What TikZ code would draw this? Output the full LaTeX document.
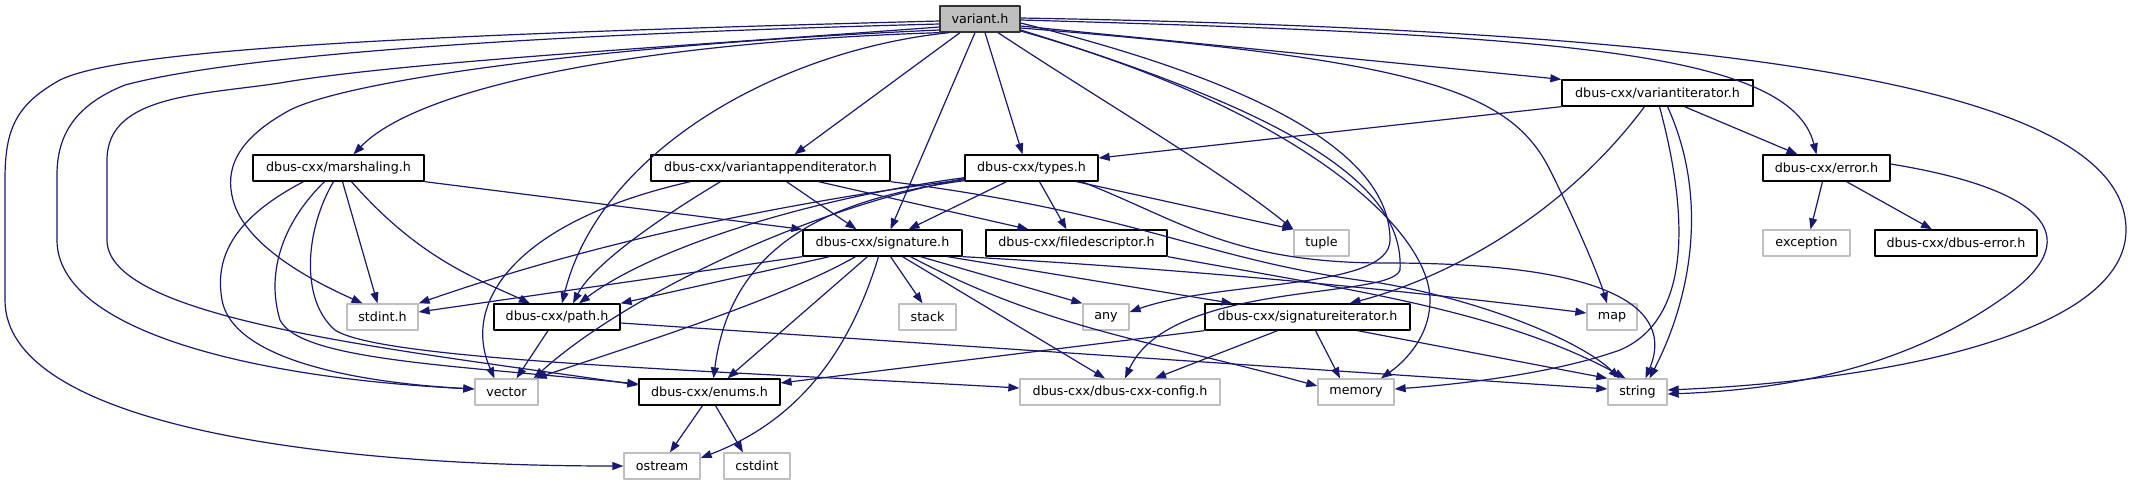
\documentclass[tikz,border=0pt]{standalone}
\usepackage{fontspec}
\setmainfont{DejaVu Sans}
\usetikzlibrary{arrows.meta}
\definecolor{edgeblue}{RGB}{25,25,112}
\definecolor{extgrey}{RGB}{191,191,191}
\begin{document}
\begin{tikzpicture}[x=1pt,y=-1pt,line join=round,
	edge/.style={edgeblue,line width=1.2pt,-{Triangle[length=11pt,width=8pt]}},
	box/.style={rectangle,minimum height=26pt,inner sep=0pt,line width=1.3pt,font=\fontsize{12.7}{15}\selectfont},
	doc/.style={box,draw=black,fill=white},
	ext/.style={box,draw=extgrey,fill=white},
	root/.style={box,draw=black!80,fill=extgrey}]
	\useasboundingbox (0,0) rectangle (2131,485);
	\node[root,minimum width=80pt] (v) at (980,19) {variant.h};
	\node[doc,minimum width=191pt] (vi) at (1657.5,93) {dbus-cxx/variantiterator.h};
	\node[doc,minimum width=171pt] (ma) at (338.5,168) {dbus-cxx/marshaling.h};
	\node[doc,minimum width=239pt] (va) at (770.5,168) {dbus-cxx/variantappenditerator.h};
	\node[doc,minimum width=133pt] (ty) at (1031.5,168) {dbus-cxx/types.h};
	\node[doc,minimum width=127pt] (er) at (1826.5,168) {dbus-cxx/error.h};
	\node[doc,minimum width=159pt] (sg) at (882.5,243) {dbus-cxx/signature.h};
	\node[doc,minimum width=181pt] (fd) at (1076.5,243) {dbus-cxx/filedescriptor.h};
	\node[ext,minimum width=55pt] (tu) at (1321.5,243) {tuple};
	\node[ext,minimum width=87pt] (ex) at (1806.5,243) {exception};
	\node[doc,minimum width=162pt] (de) at (1956,243) {dbus-cxx/dbus-error.h};
	\node[ext,minimum width=71pt] (st) at (382.5,317) {stdint.h};
	\node[doc,minimum width=126pt] (pa) at (557,317) {dbus-cxx/path.h};
	\node[ext,minimum width=57pt] (sk) at (927.5,317) {stack};
	\node[ext,minimum width=46pt] (an) at (1106,317) {any};
	\node[doc,minimum width=205pt] (si) at (1307.5,317) {dbus-cxx/signatureiterator.h};
	\node[ext,minimum width=50pt] (mp) at (1612,317) {map};
	\node[ext,minimum width=63pt] (ve) at (506.5,392) {vector};
	\node[doc,minimum width=141pt] (en) at (709.5,392) {dbus-cxx/enums.h};
	\node[ext,minimum width=200pt] (cf) at (1120,392) {dbus-cxx/dbus-cxx-config.h};
	\node[ext,minimum width=76pt] (me) at (1356,392) {memory};
	\node[ext,minimum width=59pt] (sr) at (1637.5,392) {string};
	\node[ext,minimum width=76pt] (os) at (662,466) {ostream};
	\node[ext,minimum width=66pt] (cs) at (757,466) {cstdint};

	\draw[edge] ([yshift=-2pt]v.west) .. controls (400,35) and (120,50) .. (60,80) .. controls (15,105) and (5,130) .. (5,180) -- (5,300) .. controls (5,420) and (300,466) .. (os.west);
	\draw[edge] ([yshift=-5pt]v.west) .. controls (400,38) and (200,65) .. (125,85) .. controls (75,105) and (57,135) .. (57,175) -- (57,240) .. controls (57,330) and (250,378) .. ([yshift=3pt]ve.west);
	\draw[edge] ([yshift=-8pt]v.west) .. controls (700,45) and (400,62) .. (280,83) .. controls (200,95) and (107,95) .. (107,160) -- (107,240) .. controls (107,320) and (400,350) .. ([yshift=7pt]en.west);
	\draw[edge] ([yshift=-11pt]v.west) .. controls (600,45) and (350,80) .. (290,110) .. controls (235,140) and (225,170) .. (233,200) .. controls (245,245) and (310,280) .. ([xshift=-20pt]st.north);
	\draw[edge] (v.south west) .. controls (650,42) and (420,85) .. ([xshift=15pt]ma.north);
	\draw[edge] ([xshift=10pt]v.south west) .. controls (780,50) and (600,150) .. ([xshift=5pt]pa.north);
	\draw[edge] ([xshift=-20pt]v.south) -- ([xshift=24pt]va.north);
	\draw[edge] ([xshift=-5pt]v.south) -- ([xshift=8pt]sg.north);
	\draw[edge] ([xshift=5pt]v.south) -- ([xshift=-9pt]ty.north);
	\draw[edge] ([xshift=18pt]v.south) .. controls (1100,100) and (1220,170) .. (tu.north west);
	\draw[edge] ([yshift=-7pt]v.east) -- (vi.north west);
	\draw[edge] ([yshift=-1pt]v.east) .. controls (1550,35) and (1790,50) .. ([xshift=-10pt]er.north);
	\draw[edge] ([yshift=1pt]v.east) .. controls (1700,30) and (2126,80) .. (2126,230) .. controls (2126,330) and (1900,380) .. ([yshift=2pt]sr.east);
	\draw[edge] ([yshift=-9pt]v.east) .. controls (1420,60) and (1510,90) .. (1550,170) .. controls (1580,230) and (1600,280) .. ([xshift=-5pt]mp.north);
	\draw[edge] ([yshift=-4pt]v.east) .. controls (1250,80) and (1390,150) .. (1390,240) .. controls (1390,290) and (1220,280) .. ([yshift=5pt]an.east);
	\draw[edge] ([yshift=-11pt]v.east) .. controls (1280,110) and (1405,180) .. (1400,270) .. controls (1390,300) and (1170,280) .. ([xshift=5pt]cf.north);
	\draw[edge] ([yshift=-12pt]v.east) .. controls (1300,110) and (1430,230) .. (1430,300) .. controls (1430,340) and (1400,365) .. ([xshift=25pt]me.north);

	\draw[edge] ([xshift=-35pt]ma.south) .. controls (230,220) and (215,260) .. (222,300) .. controls (235,370) and (400,385) .. ([yshift=3pt]ve.west);
	\draw[edge] ([xshift=-14pt]ma.south) .. controls (285,220) and (265,270) .. (280,320) .. controls (300,360) and (450,365) .. ([yshift=8pt]en.west);
	\draw[edge] ([xshift=-5pt]ma.south) .. controls (305,230) and (300,300) .. (335,330) .. controls (380,360) and (700,370) .. ([yshift=4pt]cf.west);
	\draw[edge] ([xshift=4pt]ma.south) -- ([xshift=-5pt]st.north);
	\draw[edge] ([xshift=13pt]ma.south) .. controls (420,260) and (480,280) .. ([xshift=-27pt]pa.north);
	\draw[edge] (ma.south east) -- (sg.north west);

	\draw[edge] ([xshift=-80pt]va.south) .. controls (520,220) and (460,300) .. ([xshift=-12pt]ve.north);
	\draw[edge] ([xshift=-50pt]va.south) .. controls (640,230) and (590,270) .. ([xshift=16pt]pa.north);
	\draw[edge] ([xshift=16pt]va.south) -- ([xshift=-26pt]sg.north);
	\draw[edge] ([xshift=48pt]va.south) -- ([xshift=-48pt]fd.north);
	\draw[edge] (va.south east) .. controls (1150,215) and (1200,260) .. (1380,283) .. controls (1480,300) and (1580,340) .. ([xshift=-18pt]sr.north);

	\draw[edge] ([xshift=-25pt]ty.south) -- ([xshift=26pt]sg.north);
	\draw[edge] ([xshift=8pt]ty.south) -- ([xshift=-10pt]fd.north);
	\draw[edge] ([xshift=45pt]ty.south) -- (tu.north west);
	\draw[edge] ([xshift=50pt]ty.south) .. controls (1180,220) and (1230,262) .. (1380,263) .. controls (1640,262) and (1670,320) .. ([xshift=8pt]sr.north);
	\draw[edge] ([yshift=2pt]ty.south west) .. controls (800,200) and (600,240) .. (st.north east);
	\draw[edge] ([yshift=4pt]ty.south west) .. controls (800,200) and (650,250) .. ([xshift=22pt]pa.north);
	\draw[edge] ([yshift=3pt]ty.south west) .. controls (800,210) and (620,300) .. ([xshift=-5pt]ve.north east);
	\draw[edge] ([yshift=1pt]ty.south west) .. controls (820,200) and (730,250) .. ([xshift=4pt]en.north);

	\draw[edge] (sg.south west) -- ([yshift=5pt]st.east);
	\draw[edge] ([xshift=-53pt]sg.south) -- (pa.north east);
	\draw[edge] ([xshift=-27pt]sg.south) .. controls (780,300) and (620,350) .. ([xshift=-3pt]ve.north east);
	\draw[edge] ([xshift=-15pt]sg.south) -- ([xshift=18pt]en.north);
	\draw[edge] ([xshift=-4pt]sg.south) .. controls (850,350) and (800,420) .. ([yshift=8pt]os.east);
	\draw[edge] ([xshift=8pt]sg.south) -- ([xshift=-5pt]sk.north);
	\draw[edge] ([xshift=20pt]sg.south) -- ([xshift=-15pt]cf.north);
	\draw[edge] ([xshift=28pt]sg.south) .. controls (1050,330) and (1150,340) .. ([yshift=6pt]me.west);
	\draw[edge] ([xshift=38pt]sg.south) -- (an.north west);
	\draw[edge] ([xshift=65pt]sg.south) -- ([xshift=-75pt]si.north);
	\draw[edge] (sg.south east) .. controls (1200,270) and (1400,290) .. ([yshift=4pt]mp.west);

	\draw[edge] (fd.south east) .. controls (1350,290) and (1500,310) .. ([xshift=-12pt]sr.north);

	\draw[edge] (si.south west) -- ([yshift=9pt]en.east);
	\draw[edge] ([xshift=-30pt]si.south) -- ([xshift=35pt]cf.north);
	\draw[edge] ([xshift=8pt]si.south) -- ([xshift=-16pt]me.north);
	\draw[edge] ([xshift=50pt]si.south) -- (sr.north west);

	\draw[edge] (vi.south west) -- ([yshift=10pt]ty.east);
	\draw[edge] ([xshift=-13pt]vi.south) .. controls (1560,220) and (1440,280) .. ([xshift=42pt]si.north);
	\draw[edge] ([xshift=2pt]vi.south) .. controls (1690,220) and (1690,320) .. (1620,350) .. controls (1550,375) and (1450,385) .. ([yshift=3pt]me.east);
	\draw[edge] ([xshift=10pt]vi.south) .. controls (1710,200) and (1690,300) .. ([xshift=12pt]sr.north);
	\draw[edge] ([xshift=27pt]vi.south) -- ([xshift=-29pt]er.north);

	\draw[edge] ([xshift=-4pt]er.south) -- ([xshift=4pt]ex.north);
	\draw[edge] ([xshift=20pt]er.south) -- ([xshift=-24pt]de.north);
	\draw[edge] ([yshift=4pt]er.east) .. controls (2050,190) and (2090,240) .. (2000,300) .. controls (1900,370) and (1780,390) .. ([yshift=-2pt]sr.east);

	\draw[edge] ([xshift=-9pt]pa.south) -- ([xshift=10pt]ve.north);
	\draw[edge] ([yshift=-6pt]pa.east) -- ([yshift=3pt]sr.west);
	\draw[edge] ([xshift=-7pt]en.south) -- ([xshift=8pt]os.north);
	\draw[edge] ([xshift=6pt]en.south) -- ([xshift=-14pt]cs.north);
\end{tikzpicture}
\end{document}
